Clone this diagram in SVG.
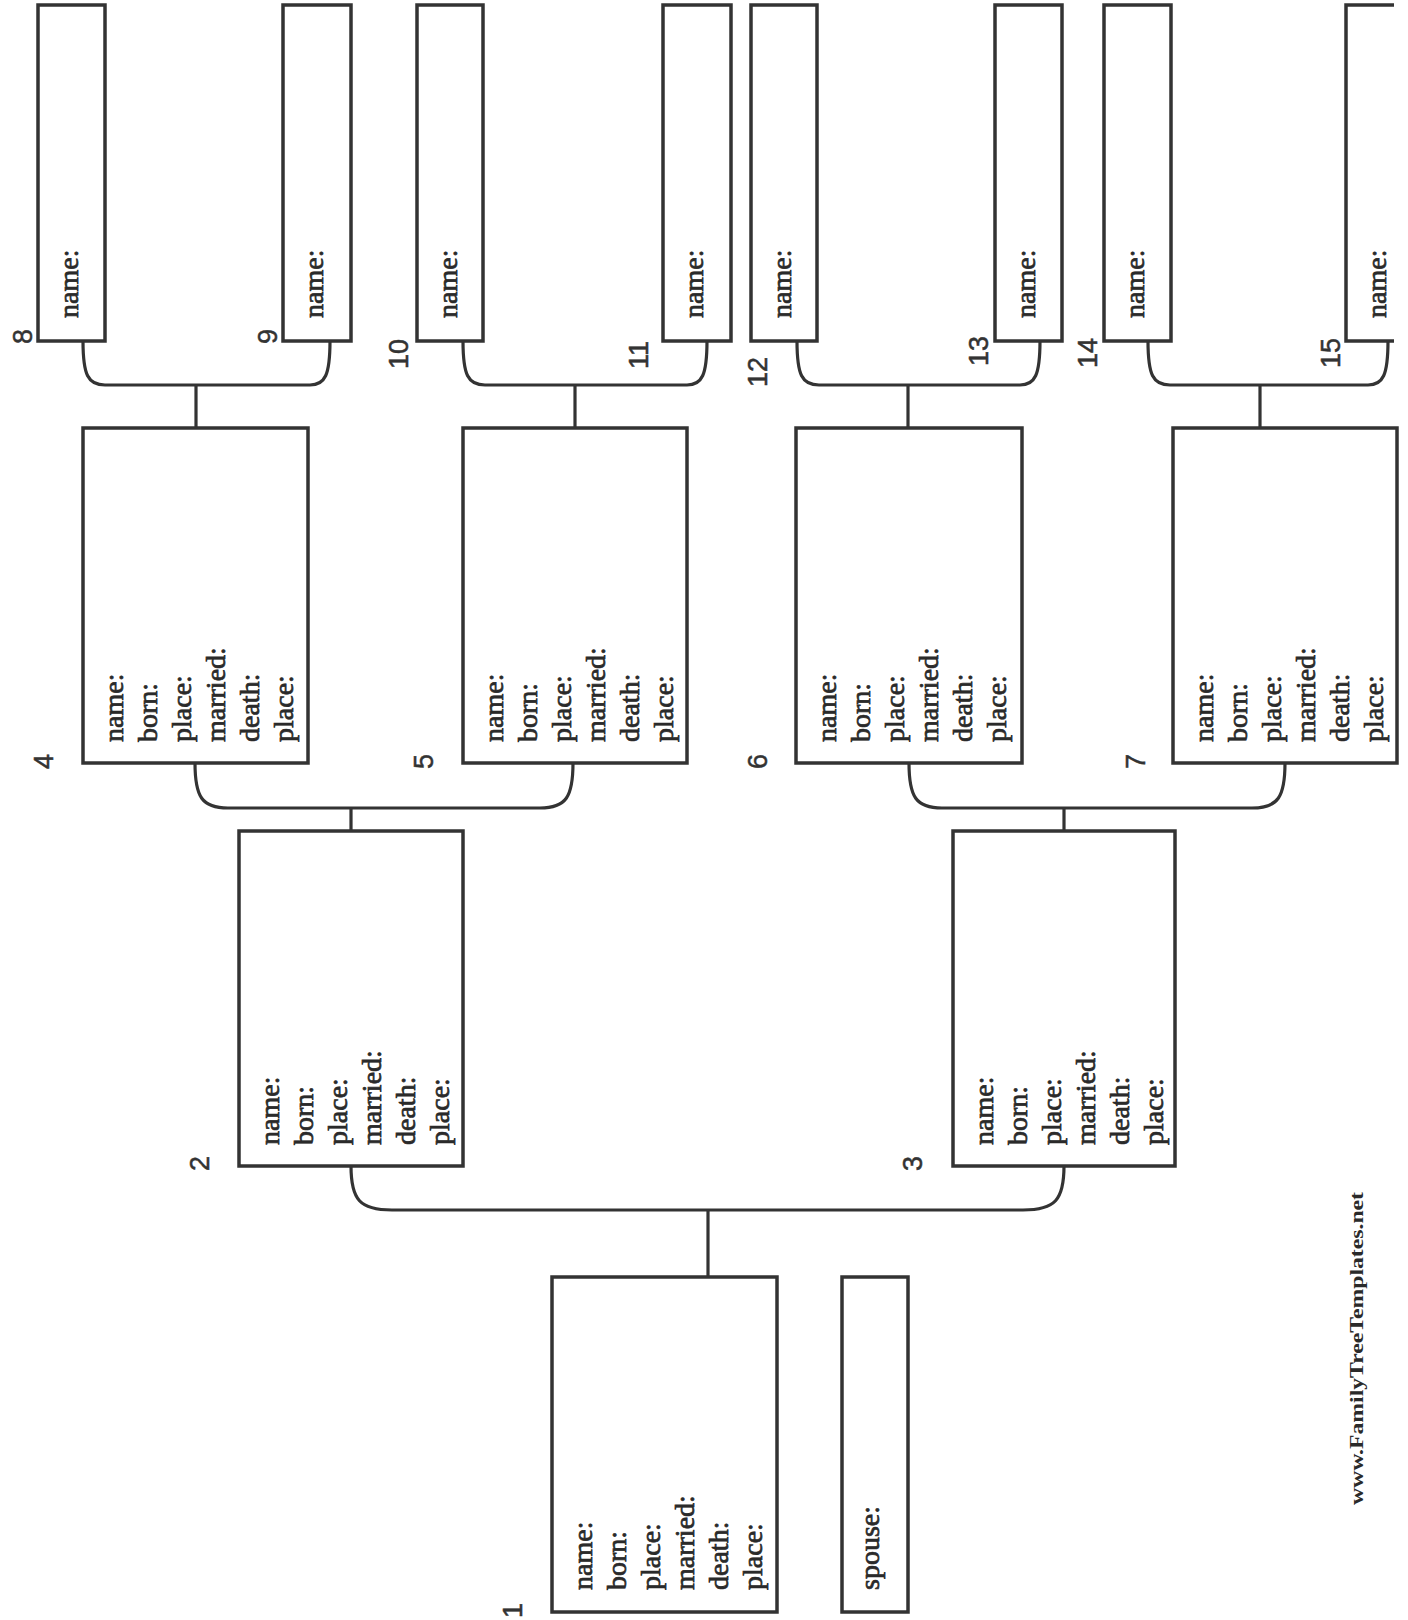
<svg xmlns="http://www.w3.org/2000/svg" width="1408" height="1620" viewBox="0 0 1408 1620">
<style>
  .box { fill: #ffffff; stroke: #333333; stroke-width: 3.5; }
  .conn { fill: none; stroke: #333333; stroke-width: 3.2; }
  .lbl { font-family: "Liberation Serif", "Times New Roman", serif; font-size: 28px; fill: #2a2a2a; stroke: #2a2a2a; stroke-width: 0.7; }
  .num { font-family: "Liberation Sans", Arial, sans-serif; font-size: 27px; fill: #333333; stroke: #333333; stroke-width: 0.5; }
  .wm { font-family: "Liberation Serif", "Times New Roman", serif; font-size: 19px; font-weight: bold; fill: #2a2a2a; }
</style>
<rect x="0" y="0" width="1408" height="1620" fill="#ffffff"/>

<g id="connectors">
  <path class="conn" d="M83,341 C83,375 88,385 105,385 H310 C325,385 330,375 330,341"/>
  <path class="conn" d="M196,385 V428"/>
  <path class="conn" d="M463,341 C463,375 468,385 485,385 H687 C702,385 707,375 707,341"/>
  <path class="conn" d="M575,385 V428"/>
  <path class="conn" d="M797,341 C797,375 802,385 819,385 H1020 C1035,385 1040,375 1040,341"/>
  <path class="conn" d="M908,385 V428"/>
  <path class="conn" d="M1148,341 C1148,375 1153,385 1170,385 H1368 C1383,385 1388,375 1388,341"/>
  <path class="conn" d="M1260,385 V428"/>
  <path class="conn" d="M195,763 C195,797 202,808 228,808 H540 C566,808 573,797 573,763"/>
  <path class="conn" d="M351,808 V831"/>
  <path class="conn" d="M909,763 C909,797 916,808 942,808 H1252 C1278,808 1285,797 1285,763"/>
  <path class="conn" d="M1064,808 V831"/>
  <path class="conn" d="M351,1166 C351,1200 360,1210 392,1210 H1023 C1055,1210 1064,1200 1064,1166"/>
  <path class="conn" d="M708,1210 V1277"/>
</g>

<g id="node8">
  <rect class="box" x="38" y="5" width="67" height="336"/>
  <text class="lbl" transform="translate(78,318) rotate(-90)">name:</text>
  <text class="num" transform="translate(32,344) rotate(-90)">8</text>
</g>
<g id="node9">
  <rect class="box" x="283" y="5" width="68" height="336"/>
  <text class="lbl" transform="translate(323,318) rotate(-90)">name:</text>
  <text class="num" transform="translate(277,344) rotate(-90)">9</text>
</g>
<g id="node10">
  <rect class="box" x="417" y="5" width="66" height="336"/>
  <text class="lbl" transform="translate(457,318) rotate(-90)">name:</text>
  <text class="num" transform="translate(408,369) rotate(-90)">10</text>
</g>
<g id="node11">
  <rect class="box" x="663" y="5" width="68" height="336"/>
  <text class="lbl" transform="translate(703,318) rotate(-90)">name:</text>
  <text class="num" transform="translate(648,369) rotate(-90)">11</text>
</g>
<g id="node12">
  <rect class="box" x="751" y="5" width="66" height="336"/>
  <text class="lbl" transform="translate(791,318) rotate(-90)">name:</text>
  <text class="num" transform="translate(767,387) rotate(-90)">12</text>
</g>
<g id="node13">
  <rect class="box" x="995" y="5" width="67" height="336"/>
  <text class="lbl" transform="translate(1035,318) rotate(-90)">name:</text>
  <text class="num" transform="translate(988,366) rotate(-90)">13</text>
</g>
<g id="node14">
  <rect class="box" x="1104" y="5" width="67" height="336"/>
  <text class="lbl" transform="translate(1144,318) rotate(-90)">name:</text>
  <text class="num" transform="translate(1097,368) rotate(-90)">14</text>
</g>
<g id="node15">
  <path class="box" d="M1394,5 H1346 V341 H1394"/>
  <text class="lbl" transform="translate(1386,318) rotate(-90)">name:</text>
  <text class="num" transform="translate(1340,368) rotate(-90)">15</text>
</g>

<g id="node4">
  <rect class="box" x="83" y="428" width="225" height="335"/>
  <text class="lbl" transform="translate(123,742) rotate(-90)"><tspan x="0" y="0">name:</tspan><tspan x="0" y="34">born:</tspan><tspan x="0" y="68">place:</tspan><tspan x="0" y="102">married:</tspan><tspan x="0" y="136">death:</tspan><tspan x="0" y="170">place:</tspan></text>
  <text class="num" transform="translate(53,769) rotate(-90)">4</text>
</g>
<g id="node5">
  <rect class="box" x="463" y="428" width="224" height="335"/>
  <text class="lbl" transform="translate(503,742) rotate(-90)"><tspan x="0" y="0">name:</tspan><tspan x="0" y="34">born:</tspan><tspan x="0" y="68">place:</tspan><tspan x="0" y="102">married:</tspan><tspan x="0" y="136">death:</tspan><tspan x="0" y="170">place:</tspan></text>
  <text class="num" transform="translate(433,769) rotate(-90)">5</text>
</g>
<g id="node6">
  <rect class="box" x="796" y="428" width="226" height="335"/>
  <text class="lbl" transform="translate(836,742) rotate(-90)"><tspan x="0" y="0">name:</tspan><tspan x="0" y="34">born:</tspan><tspan x="0" y="68">place:</tspan><tspan x="0" y="102">married:</tspan><tspan x="0" y="136">death:</tspan><tspan x="0" y="170">place:</tspan></text>
  <text class="num" transform="translate(767,769) rotate(-90)">6</text>
</g>
<g id="node7">
  <rect class="box" x="1173" y="428" width="224" height="335"/>
  <text class="lbl" transform="translate(1213,742) rotate(-90)"><tspan x="0" y="0">name:</tspan><tspan x="0" y="34">born:</tspan><tspan x="0" y="68">place:</tspan><tspan x="0" y="102">married:</tspan><tspan x="0" y="136">death:</tspan><tspan x="0" y="170">place:</tspan></text>
  <text class="num" transform="translate(1145,769) rotate(-90)">7</text>
</g>

<g id="node2">
  <rect class="box" x="239" y="831" width="224" height="335"/>
  <text class="lbl" transform="translate(279,1145) rotate(-90)"><tspan x="0" y="0">name:</tspan><tspan x="0" y="34">born:</tspan><tspan x="0" y="68">place:</tspan><tspan x="0" y="102">married:</tspan><tspan x="0" y="136">death:</tspan><tspan x="0" y="170">place:</tspan></text>
  <text class="num" transform="translate(209,1171) rotate(-90)">2</text>
</g>
<g id="node3">
  <rect class="box" x="953" y="831" width="222" height="335"/>
  <text class="lbl" transform="translate(993,1145) rotate(-90)"><tspan x="0" y="0">name:</tspan><tspan x="0" y="34">born:</tspan><tspan x="0" y="68">place:</tspan><tspan x="0" y="102">married:</tspan><tspan x="0" y="136">death:</tspan><tspan x="0" y="170">place:</tspan></text>
  <text class="num" transform="translate(922,1171) rotate(-90)">3</text>
</g>

<g id="node1">
  <rect class="box" x="552" y="1277" width="225" height="335"/>
  <text class="lbl" transform="translate(592,1590) rotate(-90)"><tspan x="0" y="0">name:</tspan><tspan x="0" y="34">born:</tspan><tspan x="0" y="68">place:</tspan><tspan x="0" y="102">married:</tspan><tspan x="0" y="136">death:</tspan><tspan x="0" y="170">place:</tspan></text>
  <text class="num" transform="translate(522,1618) rotate(-90)">1</text>
</g>
<g id="spouse">
  <rect class="box" x="842" y="1277" width="66" height="335"/>
  <text class="lbl" transform="translate(879,1590) rotate(-90)">spouse:</text>
</g>

<text class="wm" transform="translate(1363,1505) rotate(-90)" textLength="313" lengthAdjust="spacingAndGlyphs">www.FamilyTreeTemplates.net</text>
</svg>
